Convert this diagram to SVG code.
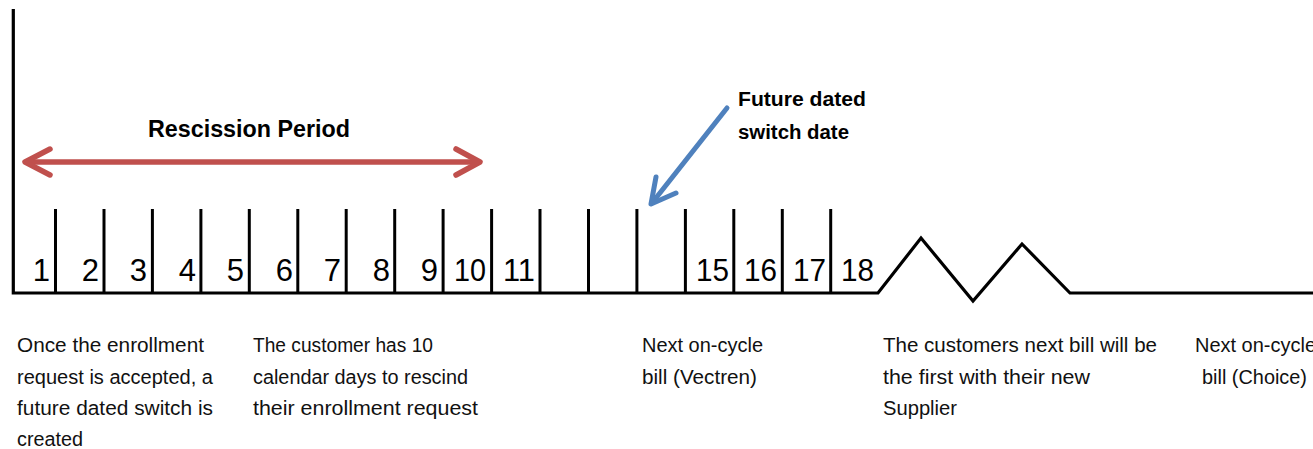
<svg xmlns="http://www.w3.org/2000/svg" width="1313" height="449" viewBox="0 0 1313 449">
<style>
.ax{stroke:#000;stroke-width:3.2;fill:none;stroke-linejoin:miter}
.tk{stroke:#000;stroke-width:3}
.num{font-family:"Liberation Sans",Arial,sans-serif;font-size:31px;fill:#000;text-anchor:end}
.lbl{font-family:"Liberation Sans",Arial,sans-serif;font-size:20px;fill:#111}
.bold{font-family:"Liberation Sans",Arial,sans-serif;font-weight:bold;fill:#000}
.red{stroke:#c0504d;stroke-width:5.5;fill:none;stroke-linecap:round;stroke-linejoin:round}
.blue{stroke:#4f81bd;stroke-width:5;fill:none;stroke-linecap:round;stroke-linejoin:round}
</style>
<rect width="1313" height="449" fill="#fff"/>
<g id="timeline-axis">
<polyline class="ax" points="13.3,9 13.3,293 878,293 921,238 973,301 1022,244 1070,293 1313,293"/>
</g>
<g id="ticks">
<line class="tk" x1="55.5" y1="209" x2="55.5" y2="293"/>
<line class="tk" x1="104" y1="209" x2="104" y2="293"/>
<line class="tk" x1="152.4" y1="209" x2="152.4" y2="293"/>
<line class="tk" x1="200.9" y1="209" x2="200.9" y2="293"/>
<line class="tk" x1="249.3" y1="209" x2="249.3" y2="293"/>
<line class="tk" x1="297.8" y1="209" x2="297.8" y2="293"/>
<line class="tk" x1="346.2" y1="209" x2="346.2" y2="293"/>
<line class="tk" x1="394.7" y1="209" x2="394.7" y2="293"/>
<line class="tk" x1="443.1" y1="209" x2="443.1" y2="293"/>
<line class="tk" x1="491.6" y1="209" x2="491.6" y2="293"/>
<line class="tk" x1="540" y1="209" x2="540" y2="293"/>
<line class="tk" x1="588.5" y1="209" x2="588.5" y2="293"/>
<line class="tk" x1="636.9" y1="209" x2="636.9" y2="293"/>
<line class="tk" x1="685.4" y1="209" x2="685.4" y2="293"/>
<line class="tk" x1="733.8" y1="209" x2="733.8" y2="293"/>
<line class="tk" x1="782.3" y1="209" x2="782.3" y2="293"/>
<line class="tk" x1="830.7" y1="209" x2="830.7" y2="293"/>
</g>
<g id="day-numbers">
<text class="num" x="50" y="281">1</text>
<text class="num" x="99" y="281">2</text>
<text class="num" x="147" y="281">3</text>
<text class="num" x="196" y="281">4</text>
<text class="num" x="244" y="281">5</text>
<text class="num" x="293" y="281">6</text>
<text class="num" x="341" y="281">7</text>
<text class="num" x="390" y="281">8</text>
<text class="num" x="438" y="281">9</text>
<text class="num" x="486" y="281" textLength="32" lengthAdjust="spacingAndGlyphs">10</text>
<text class="num" x="535" y="281" textLength="32" lengthAdjust="spacingAndGlyphs">11</text>
<text class="num" x="729" y="281" textLength="33" lengthAdjust="spacingAndGlyphs">15</text>
<text class="num" x="777" y="281" textLength="33" lengthAdjust="spacingAndGlyphs">16</text>
<text class="num" x="826" y="281" textLength="33" lengthAdjust="spacingAndGlyphs">17</text>
<text class="num" x="874" y="281" textLength="33" lengthAdjust="spacingAndGlyphs">18</text>
</g>
<g id="rescission-label">
<text class="bold" x="148" y="137" font-size="23" textLength="202" lengthAdjust="spacingAndGlyphs">Rescission Period</text>
</g>
<g id="switch-date-label">
<text class="bold" x="738" y="106" font-size="20" textLength="128" lengthAdjust="spacingAndGlyphs">Future dated</text>
<text class="bold" x="738" y="139" font-size="20" textLength="111" lengthAdjust="spacingAndGlyphs">switch date</text>
</g>
<g id="connectors">
<line class="red" x1="27" y1="162" x2="478" y2="162"/>
<polyline class="red" points="50,149 25,162 50,175"/>
<polyline class="red" points="456,149 480,162 456,175"/>
<line class="blue" x1="727" y1="108" x2="652" y2="203"/>
<polyline class="blue" points="656,177 651,204 676,193"/>
</g>
<g id="note-enrollment">
<text class="lbl" x="17" y="352" textLength="187" lengthAdjust="spacingAndGlyphs">Once the enrollment</text>
<text class="lbl" x="17" y="384" textLength="196" lengthAdjust="spacingAndGlyphs">request is accepted, a</text>
<text class="lbl" x="17" y="415" textLength="196" lengthAdjust="spacingAndGlyphs">future dated switch is</text>
<text class="lbl" x="17" y="446" textLength="66" lengthAdjust="spacingAndGlyphs">created</text>
</g>
<g id="note-rescind">
<text class="lbl" x="253" y="352" textLength="180" lengthAdjust="spacingAndGlyphs">The customer has 10</text>
<text class="lbl" x="253" y="384" textLength="215" lengthAdjust="spacingAndGlyphs">calendar days to rescind</text>
<text class="lbl" x="253" y="415" textLength="225" lengthAdjust="spacingAndGlyphs">their enrollment request</text>
</g>
<g id="note-vectren">
<text class="lbl" x="642" y="352" textLength="121" lengthAdjust="spacingAndGlyphs">Next on-cycle</text>
<text class="lbl" x="642" y="384" textLength="115" lengthAdjust="spacingAndGlyphs">bill (Vectren)</text>
</g>
<g id="note-supplier">
<text class="lbl" x="883" y="352" textLength="274" lengthAdjust="spacingAndGlyphs">The customers next bill will be</text>
<text class="lbl" x="883" y="384" textLength="207" lengthAdjust="spacingAndGlyphs">the first with their new</text>
<text class="lbl" x="883" y="415" textLength="74" lengthAdjust="spacingAndGlyphs">Supplier</text>
</g>
<g id="note-choice">
<text class="lbl" x="1195" y="352" textLength="121" lengthAdjust="spacingAndGlyphs">Next on-cycle</text>
<text class="lbl" x="1202" y="384" textLength="105" lengthAdjust="spacingAndGlyphs">bill (Choice)</text>
</g>
</svg>
